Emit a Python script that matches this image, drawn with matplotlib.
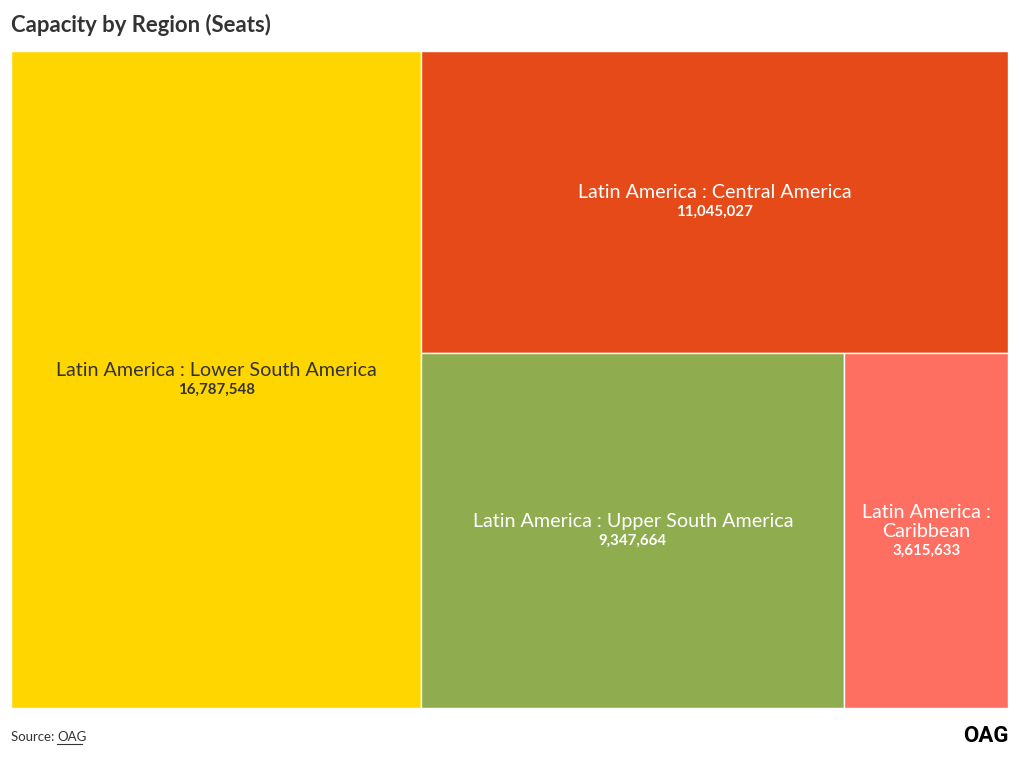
import matplotlib
matplotlib.use("Agg")
import matplotlib.pyplot as plt
from matplotlib.patches import Rectangle

regions = ["Latin America : Lower South America", "Latin America : Central America",
           "Latin America : Upper South America", "Latin America : Caribbean"]
display_labels = ["Latin America : Lower South America", "Latin America : Central America",
                  "Latin America : Upper South America", "Latin America :\nCaribbean"]
seats = [16787548, 11045027, 9347664, 3615633]
colors = ["#FFD600", "#E64A19", "#8FAC4F", "#FF6F61"]
text_colors = ["#333333", "white", "white", "white"]

plt.rcParams['font.family'] = ['Lato', 'DejaVu Sans']


def worst(row, w):
    s = sum(row)
    return max(max(w * w * r / (s * s), (s * s) / (w * w * r)) for r in row)


def layout_row(row, x, y, dx, dy):
    s = sum(row)
    rects = []
    if dx >= dy:
        width = s / dy
        cy = y
        for r in row:
            h = r / width
            rects.append((x, cy, width, h))
            cy += h
        return rects, (x + width, y, dx - width, dy)
    else:
        height = s / dx
        cx = x
        for r in row:
            w = r / height
            rects.append((cx, y + dy - height, w, height))
            cx += w
        return rects, (x, y, dx, dy - height)


def squarify(vals, x, y, dx, dy):
    total = sum(vals)
    areas = [v * dx * dy / total for v in vals]
    rects = []
    row = []
    i = 0
    while i < len(areas):
        a = areas[i]
        side = min(dx, dy)
        if not row or worst(row + [a], side) <= worst(row, side):
            row.append(a)
            i += 1
        else:
            r, (x, y, dx, dy) = layout_row(row, x, y, dx, dy)
            rects += r
            row = []
    if row:
        r, _ = layout_row(row, x, y, dx, dy)
        rects += r
    return rects


W, H = 997.0, 657.0
fig = plt.figure(figsize=(10.2, 7.6), dpi=100)
ax = fig.add_axes([11 / 1020, 52 / 760, W / 1020, H / 760])
ax.set_xlim(0, W)
ax.set_ylim(0, H)
ax.axis('off')

rects = squarify(seats, 0, 0, W, H)
for (x, y, w, h), lab, val, c, tc in zip(rects, display_labels, seats, colors, text_colors):
    ax.add_patch(Rectangle((x, y), w, h, facecolor=c, edgecolor='white', linewidth=1))
    cx, cy = x + w / 2, y + h / 2
    multi = "\n" in lab
    ax.text(cx, cy + (-9 if multi else 1), lab, ha='center', va='bottom', fontsize=14.2,
            color=tc, linespacing=1.1)
    ax.text(cx, cy + (-13 if multi else -3), f"{val:,}", ha='center', va='top',
            fontsize=10.8, fontweight='bold', color=tc)

fig.text(11 / 1020, 1 - 25 / 760, "Capacity by Region (Seats)", ha='left', va='center',
         fontsize=15.9, fontweight='bold', color='#333333')
fig.text(11 / 1020, 1 - 737 / 760, "Source: ", ha='left', va='center', fontsize=9.5,
         color='#333333')
fig.text(57 / 1020, 1 - 737 / 760, "OAG", ha='left', va='center', fontsize=9.5,
         color='#333333')
fig.add_artist(plt.Line2D([57 / 1020, 82 / 1020], [1 - 744 / 760, 1 - 744 / 760],
                          color='#333333', linewidth=0.8))
fig.text(1009 / 1020, 1 - 736 / 760, "OAG", ha='right', va='center', fontsize=16,
         fontweight='bold', color='black', family=['Roboto', 'DejaVu Sans'],
         fontstretch='condensed')

fig.savefig("out.png", dpi=100)
